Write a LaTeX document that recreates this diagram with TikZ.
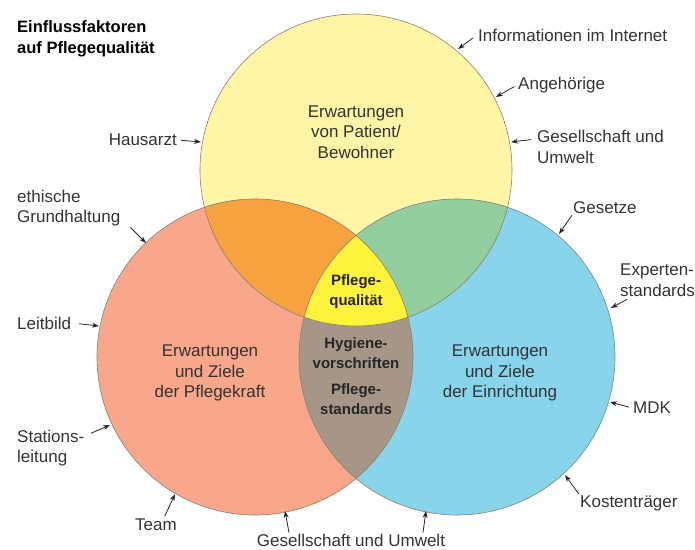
\documentclass[tikz,border=0pt]{standalone}
\usepackage{fontspec}
\setmainfont{Liberation Sans}
\usetikzlibrary{arrows.meta}

\definecolor{patgelb}{HTML}{FEF5A6}
\definecolor{kraftlachs}{HTML}{F8A78A}
\definecolor{einrblau}{HTML}{88D4EB}
\definecolor{ueberorange}{HTML}{F6A33F}
\definecolor{uebergruen}{HTML}{93CF9E}
\definecolor{uebergrau}{HTML}{A59688}
\definecolor{mittegelb}{HTML}{FDF23C}
\definecolor{randbraun}{HTML}{8C8072}
\definecolor{schrift}{HTML}{333333}

\begin{document}
\begin{tikzpicture}[x=1pt,y=-1pt,
	einfluss/.style={font=\fontsize{17}{20.5}\selectfont, text=schrift, align=left, inner sep=1pt},
	bereich/.style={font=\fontsize{17}{20.5}\selectfont, text=schrift, align=center},
	kern/.style={font=\fontsize{15}{20}\selectfont\bfseries, text=black!85, align=center},
	pfeil/.style={-{Stealth[length=7pt,width=5pt]}, thick, black!85}]
		\useasboundingbox (0,0) rectangle (695,549);
		\coordinate (mp) at (356,170);
		\coordinate (mk) at (255,357);
		\coordinate (me) at (457,357);
		% Kreise
		\fill[patgelb] (mp) circle (156pt);
		\fill[kraftlachs] (mk) circle (158pt);
		\fill[einrblau] (me) circle (158pt);
		\begin{scope}
			\clip (mp) circle (156pt);
			\fill[ueberorange] (mk) circle (158pt);
			\fill[uebergruen] (me) circle (158pt);
		\end{scope}
		\begin{scope}
			\clip (mk) circle (158pt);
			\fill[uebergrau] (me) circle (158pt);
			\clip (me) circle (158pt);
			\fill[mittegelb] (mp) circle (156pt);
		\end{scope}
		\draw[randbraun, line width=0.6pt] (mp) circle (156pt) (mk) circle (158pt) (me) circle (158pt);
		% Texte in den Kreisen
		\node[bereich] (patient) at (356,132) {Erwartungen\\von Patient/\\Bewohner};
		\node[bereich] (kraft) at (210,373) {Erwartungen\\und Ziele\\der Pflegekraft};
		\node[bereich] (einrichtung) at (500,373) {Erwartungen\\und Ziele\\der Einrichtung};
		\node[kern] (qualitaet) at (356,292) {Pflege-\\qualität};
		\node[kern] (hygiene) at (356,353) {Hygiene-\\vorschriften};
		\node[kern] (standards) at (356,399) {Pflege-\\standards};
		% Einflussfaktoren
		\node[einfluss, font=\fontsize{16.5}{20.5}\selectfont\bfseries, text=black, anchor=west] (titel) at (16,39) {Einflussfaktoren\\auf Pflegequalität};
		\node[einfluss, anchor=east] (hausarzt) at (178,140) {Hausarzt};
		\node[einfluss, anchor=west] (internet) at (477,35) {Informationen im Internet};
		\node[einfluss, anchor=west] (angehoerige) at (517,85) {Angehörige};
		\node[einfluss, anchor=west] (gesOben) at (536,147) {Gesellschaft und\\Umwelt};
		\node[einfluss, anchor=west] (ethik) at (16,208) {ethische\\Grundhaltung};
		\node[einfluss, anchor=west] (leitbild) at (16,323) {Leitbild};
		\node[einfluss, anchor=west] (station) at (16,448) {Stations-\\leitung};
		\node[einfluss, anchor=west] (team) at (134,525) {Team};
		\node[einfluss] (gesUnten) at (351,540) {Gesellschaft und Umwelt};
		\node[einfluss, anchor=west] (gesetze) at (572,208) {Gesetze};
		\node[einfluss, anchor=west] (experten) at (619,280) {Experten-\\standards};
		\node[einfluss, anchor=west] (mdk) at (632,408) {MDK};
		\node[einfluss, anchor=west] (kosten) at (579,503) {Kostenträger};
		% Pfeilspitzen am Kreisrand
		\coordinate (zHausarzt) at (201,142);
		\coordinate (zInternet) at (458,49);
		\coordinate (zAngehoerige) at (496,97);
		\coordinate (zGesOben) at (511,142);
		\coordinate (zEthik) at (146,243);
		\coordinate (zLeitbild) at (99,326);
		\coordinate (zStation) at (110,425);
		\coordinate (zTeam) at (175,494);
		\coordinate (zGesLinks) at (285,511);
		\coordinate (zGesRechts) at (426,511);
		\coordinate (zGesetze) at (559,234);
		\coordinate (zExperten) at (611,308);
		\coordinate (zMdk) at (610,402);
		\coordinate (zKosten) at (565,475);
		% Pfeile
		\draw[pfeil, shorten <=3pt] (hausarzt.east) -- (zHausarzt);
		\draw[pfeil, shorten <=5pt] (internet.west) -- (zInternet);
		\draw[pfeil, shorten <=3pt] (angehoerige.west) -- (zAngehoerige);
		\draw[pfeil, shorten <=5pt] ([yshift=8pt]gesOben.west) -- (zGesOben);
		\draw[pfeil] ([xshift=9pt]ethik.south east) -- (zEthik);
		\draw[pfeil, shorten <=7pt] (leitbild.east) -- (zLeitbild);
		\draw[pfeil, shorten <=6pt] ([yshift=-7pt]station.north east) -- (zStation);
		\draw[pfeil, shorten <=2pt] ([xshift=8pt]team.north) -- (zTeam);
		\draw[pfeil] ([xshift=-62pt]gesUnten.north) -- (zGesLinks);
		\draw[pfeil] ([xshift=72pt]gesUnten.north) -- (zGesRechts);
		\draw[pfeil] (gesetze.south west) -- (zGesetze);
		\draw[pfeil] ([xshift=8pt,yshift=-2pt]experten.south west) -- (zExperten);
		\draw[pfeil, shorten <=3pt] (mdk.west) -- (zMdk);
		\draw[pfeil] (kosten.north west) -- (zKosten);
\end{tikzpicture}
\end{document}
